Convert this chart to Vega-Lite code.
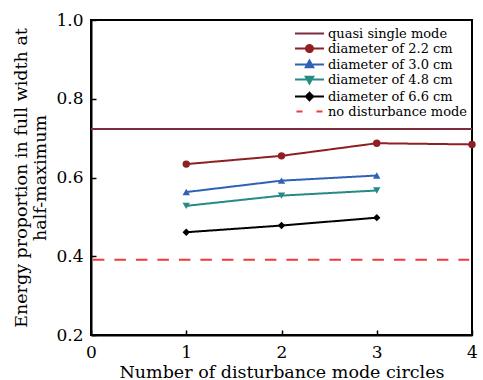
{
  "$schema": "https://vega.github.io/schema/vega-lite/v6.json",
  "width": 381,
  "height": 315,
  "autosize": {"type": "none"},
  "padding": {"left": 91, "top": 20, "right": 11, "bottom": 45},
  "background": "white",
  "config": {
    "view": {"stroke": "black", "strokeWidth": 2},
    "font": "DejaVu Serif",
    "axis": {
      "grid": false,
      "domainColor": "black",
      "domainWidth": 2,
      "tickColor": "black",
      "tickWidth": 1.5,
      "tickSize": -5,
      "labelFlush": false,
      "labelFont": "DejaVu Serif",
      "labelFontSize": 17,
      "labelColor": "black",
      "titleFont": "DejaVu Serif",
      "titleFontSize": 17.5,
      "titleFontWeight": "normal",
      "titleColor": "black"
    },
    "legend": {"symbolOpacity": 1}
  },
  "data": {
    "values": [
      {"series": "quasi single mode", "x": 0, "y": 0.723},
      {"series": "quasi single mode", "x": 4, "y": 0.723},
      {"series": "diameter of 2.2 cm", "x": 1, "y": 0.634},
      {"series": "diameter of 2.2 cm", "x": 2, "y": 0.655},
      {"series": "diameter of 2.2 cm", "x": 3, "y": 0.687},
      {"series": "diameter of 2.2 cm", "x": 4, "y": 0.684},
      {"series": "diameter of 3.0 cm", "x": 1, "y": 0.563},
      {"series": "diameter of 3.0 cm", "x": 2, "y": 0.592},
      {"series": "diameter of 3.0 cm", "x": 3, "y": 0.605},
      {"series": "diameter of 4.8 cm", "x": 1, "y": 0.528},
      {"series": "diameter of 4.8 cm", "x": 2, "y": 0.554},
      {"series": "diameter of 4.8 cm", "x": 3, "y": 0.567},
      {"series": "diameter of 6.6 cm", "x": 1, "y": 0.461},
      {"series": "diameter of 6.6 cm", "x": 2, "y": 0.478},
      {"series": "diameter of 6.6 cm", "x": 3, "y": 0.498},
      {"series": "no disturbance mode", "x": 0.02, "y": 0.391},
      {"series": "no disturbance mode", "x": 3.97, "y": 0.391}
    ]
  },
  "encoding": {
    "x": {
      "field": "x",
      "type": "quantitative",
      "scale": {"domain": [0, 4], "nice": false},
      "axis": {"values": [0, 1, 2, 3, 4], "format": "d", "labelPadding": 14, "title": "Number of disturbance mode circles", "titlePadding": 3}
    },
    "y": {
      "field": "y",
      "type": "quantitative",
      "scale": {"domain": [0.2, 1.0], "nice": false, "zero": false},
      "axis": {"values": [0.2, 0.4, 0.6, 0.8, 1.0], "format": ".1f", "labelPadding": 13, "title": ["Energy proportion in full width at", "half-maximum"], "titlePadding": 6, "titleLineHeight": 19}
    },
    "color": {
      "field": "series",
      "type": "nominal",
      "scale": {
        "domain": ["quasi single mode", "diameter of 2.2 cm", "diameter of 3.0 cm", "diameter of 4.8 cm", "diameter of 6.6 cm", "no disturbance mode"],
        "range": ["#7b2c3f", "#8e1f22", "#2f62b5", "#268a86", "#000000", "#f03a3a"]
      },
      "legend": {
        "title": null,
        "orient": "none",
        "legendX": 212,
        "legendY": 7,
        "padding": 0,
        "symbolSize": 100,
        "labelFont": "DejaVu Serif",
        "labelFontSize": 13,
        "labelColor": "black",
        "labelOffset": 12,
        "rowPadding": 0,
        "encode": {
          "symbols": {
            "update": {
              "shape": {"signal": "datum.value === 'quasi single mode' ? 'M-2.9,0H2.9' : datum.value === 'diameter of 2.2 cm' ? 'M-2.9,0H2.9M0.7,0A0.7,0.7,0,1,1,-0.7,0A0.7,0.7,0,1,1,0.7,0Z' : datum.value === 'diameter of 3.0 cm' ? 'M-2.9,0H2.9M0,-0.8L0.75,0.55L-0.75,0.55Z' : datum.value === 'diameter of 4.8 cm' ? 'M-2.9,0H2.9M0,0.8L0.75,-0.55L-0.75,-0.55Z' : datum.value === 'diameter of 6.6 cm' ? 'M-2.9,0H2.9M0,-0.75L0.75,0L0,0.75L-0.75,0Z' : 'M-2.6,0H-1.4M1.4,0H2.6'"},
              "fill": {"signal": "scale('color', datum.value)"},
              "stroke": {"signal": "scale('color', datum.value)"},
              "strokeWidth": {"value": 2},
              "opacity": {"value": 1}
            }
          }
        }
      }
    }
  },
  "layer": [
    {
      "mark": {"type": "line", "strokeWidth": 2},
      "encoding": {
        "strokeDash": {
          "field": "series",
          "type": "nominal",
          "scale": {
            "domain": ["quasi single mode", "diameter of 2.2 cm", "diameter of 3.0 cm", "diameter of 4.8 cm", "diameter of 6.6 cm", "no disturbance mode"],
            "range": [[1, 0], [1, 0], [1, 0], [1, 0], [1, 0], [11.5, 10]]
          },
          "legend": null
        }
      }
    },
    {
      "transform": [{"filter": "indexof(datum.series, 'diameter') === 0"}],
      "mark": {"type": "point", "filled": true, "opacity": 1, "size": 55},
      "encoding": {
        "shape": {
          "field": "series",
          "type": "nominal",
          "scale": {
            "domain": ["diameter of 2.2 cm", "diameter of 3.0 cm", "diameter of 4.8 cm", "diameter of 6.6 cm"],
            "range": ["circle", "triangle-up", "triangle-down", "diamond"]
          },
          "legend": null
        }
      }
    }
  ]
}
